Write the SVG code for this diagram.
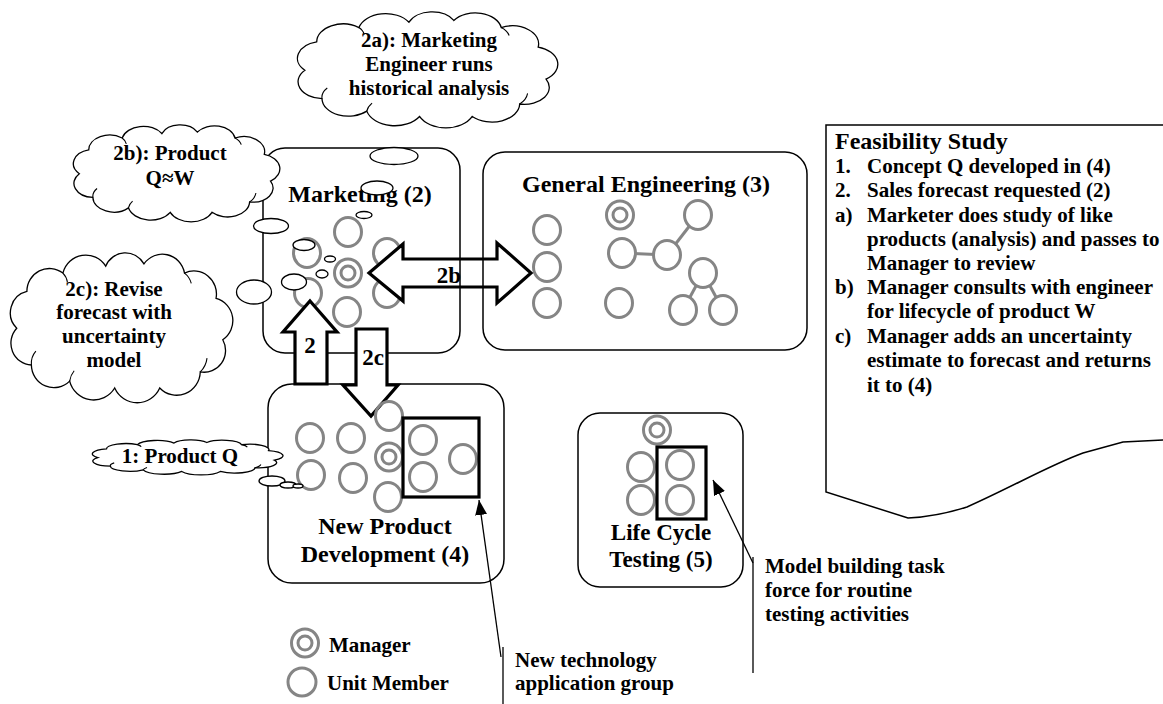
<svg xmlns="http://www.w3.org/2000/svg" xmlns:xlink="http://www.w3.org/1999/xlink" width="1163" height="704" viewBox="0 0 1163 704">
  <style>
    text { font-family: "Liberation Serif", "Times New Roman", serif; font-weight: bold; fill: #000; }
    .title { font-size: 24px; text-anchor: middle; }
    .title-s { font-size: 23px; text-anchor: middle; }
    .ctext { font-size: 21px; text-anchor: middle; }
    .body { font-size: 21px; }
    .head { font-size: 24px; }
    .alabel { font-size: 23px; text-anchor: middle; }
    .frame { fill: none; stroke: #000; stroke-width: 1.5; }
    .member { fill: none; stroke: #858585; stroke-width: 3; }
    .member-w { fill: #fff; stroke: #858585; stroke-width: 3; }
    .tie { stroke: #858585; stroke-width: 3; }
    .group-box { fill: none; stroke: #000; stroke-width: 3.2; }
    .flow { fill: #fff; stroke: #000; stroke-width: 3.2; stroke-linejoin: miter; }
    .cloud { fill: #fff; stroke: #000; stroke-width: 1.3; }
    .hint { fill: none; stroke: #000; stroke-width: 1.1; }
    .bubble { fill: #fff; stroke: #000; stroke-width: 1.3; }
    .pointer { fill: none; stroke: #000; stroke-width: 1.3; }
  </style>
  <defs>
    <!-- thought-cloud outline in a ~200x130 unit frame -->
    <path id="cloud" vector-effect="non-scaling-stroke" d="M9 62 A19 19 0 0 1 18 30 A20 20 0 0 1 50 14 A21 21 0 0 1 88 8 A19 19 0 0 1 122 6 A20 20 0 0 1 158 14 A20 20 0 0 1 186 36 A20 20 0 0 1 192 72 A19 19 0 0 1 172 100 A21 21 0 0 1 136 114 A22 22 0 0 1 96 114 A22 22 0 0 1 56 108 A20 20 0 0 1 22 94 A19 19 0 0 1 9 62 Z"/>
    <path id="cloud-hints" vector-effect="non-scaling-stroke" d="M22 94 A16 16 0 0 1 26 82 M56 108 A18 18 0 0 1 60 99 M172 100 A20 20 0 0 0 178 88 M158 14 A16 16 0 0 1 164 23 M50 14 A14 14 0 0 1 54 22"/>
    <g id="manager">
      <ellipse rx="13.5" ry="14" class="member"/>
      <circle r="7" class="member"/>
    </g>
    <marker id="tip" markerUnits="userSpaceOnUse" markerWidth="16" markerHeight="12" refX="15" refY="6" orient="auto">
      <path d="M0 0 L15 6 L0 12 Z" fill="#000"/>
    </marker>
  </defs>

  <rect width="1163" height="704" fill="#fff"/>

  <!-- unit members of Marketing and General Engineering -->
  <g id="marketing-members">
    <ellipse cx="348" cy="232" rx="13.5" ry="14.5" class="member"/>
    <ellipse cx="307" cy="253" rx="13.5" ry="14.5" class="member"/>
    <ellipse cx="387" cy="253" rx="13.5" ry="14.5" class="member"/>
    <ellipse cx="308" cy="293" rx="13.5" ry="14.5" class="member"/>
    <ellipse cx="387" cy="293" rx="13.5" ry="14.5" class="member"/>
    <ellipse cx="347" cy="312" rx="13.5" ry="14.5" class="member"/>
    <use href="#manager" x="348" y="273"/>
  </g>
  <g id="engineering-members">
    <line x1="622" y1="253" x2="667" y2="255" class="tie"/>
    <line x1="667" y1="255" x2="698" y2="215" class="tie"/>
    <line x1="703" y1="273" x2="683" y2="310" class="tie"/>
    <line x1="703" y1="273" x2="723" y2="310" class="tie"/>
    <ellipse cx="547" cy="230" rx="13.5" ry="14.5" class="member-w"/>
    <ellipse cx="547" cy="267" rx="13.5" ry="14.5" class="member-w"/>
    <ellipse cx="547" cy="303" rx="13.5" ry="14.5" class="member-w"/>
    <ellipse cx="622" cy="253" rx="13.5" ry="14.5" class="member-w"/>
    <ellipse cx="667" cy="255" rx="13.5" ry="14.5" class="member-w"/>
    <ellipse cx="698" cy="215" rx="13.5" ry="14.5" class="member-w"/>
    <ellipse cx="703" cy="273" rx="13.5" ry="14.5" class="member-w"/>
    <ellipse cx="619" cy="303" rx="13.5" ry="14.5" class="member-w"/>
    <ellipse cx="683" cy="310" rx="13.5" ry="14.5" class="member-w"/>
    <ellipse cx="723" cy="310" rx="13.5" ry="14.5" class="member-w"/>
    <use href="#manager" x="620" y="215"/>
  </g>

  <!-- two-way consultation arrow between Marketing and General Engineering -->
  <g id="connector-2b">
    <polygon class="flow" points="369,273 403,244 403,259 497,259 497,243 531,273 497,303 497,287 403,287 403,301"/>
    <text class="alabel" x="449" y="283">2b</text>
  </g>

  <g id="marketing">
    <rect class="frame" x="263" y="148" width="197" height="205" rx="22"/>
    <text class="title" x="360" y="202">Marketing (2)</text>
  </g>

  <g id="general-engineering">
    <rect class="frame" x="483" y="152" width="324" height="198" rx="22"/>
    <text class="title" x="646" y="192">General Engineering (3)</text>
  </g>

  <g id="new-product-development">
    <rect class="frame" x="268" y="384" width="236" height="199" rx="24"/>
    <text class="title" x="385" y="534">New Product</text>
    <text class="title" x="385" y="562">Development (4)</text>
  </g>

  <g id="life-cycle-testing">
    <rect class="frame" x="578" y="413" width="165" height="174" rx="22"/>
    <text class="title-s" x="661" y="540">Life Cycle</text>
    <text class="title-s" x="661" y="567">Testing (5)</text>
  </g>

  <g id="feasibility-study">
    <path class="frame" d="M1164 125 L826 125 L826 492 L908 518 C930 517 945 514 967 507 C1010 488 1050 465 1083 453 L1123 442 L1164 440"/>
    <text class="head" x="835" y="149">Feasibility Study</text>
    <g class="body">
      <text x="835" y="173">1.</text><text x="867" y="173">Concept Q developed in (4)</text>
      <text x="835" y="197">2.</text><text x="867" y="197">Sales forecast requested (2)</text>
      <text x="835" y="222">a)</text><text x="867" y="222">Marketer does study of like</text>
      <text x="867" y="246">products (analysis) and passes to</text>
      <text x="867" y="270">Manager to review</text>
      <text x="835" y="294">b)</text><text x="867" y="294">Manager consults with engineer</text>
      <text x="867" y="318">for lifecycle of product W</text>
      <text x="835" y="343">c)</text><text x="867" y="343">Manager adds an uncertainty</text>
      <text x="867" y="367">estimate to forecast and returns</text>
      <text x="867" y="392">it to (4)</text>
    </g>
  </g>

  <!-- request and return arrows between (4) and (2) -->
  <g id="connectors">
    <polygon class="flow" points="310,301 337,332 327,332 327,384 295,384 295,332 283,332"/>
    <text class="alabel" x="310" y="353">2</text>
    <polygon class="flow" points="356,329 387,329 387,385 398,385 371,416 343,385 356,385"/>
    <text class="alabel" x="373" y="365">2c</text>
  </g>

  <g id="development-members">
    <ellipse cx="310" cy="438" rx="13.5" ry="14.5" class="member"/>
    <ellipse cx="351" cy="438" rx="13.5" ry="14.5" class="member"/>
    <ellipse cx="389" cy="416" rx="13.5" ry="14.5" class="member"/>
    <ellipse cx="423" cy="440" rx="13.5" ry="14.5" class="member"/>
    <ellipse cx="463" cy="459" rx="13.5" ry="14.5" class="member"/>
    <ellipse cx="311" cy="475" rx="13.5" ry="14.5" class="member"/>
    <ellipse cx="353" cy="478" rx="13.5" ry="14.5" class="member"/>
    <ellipse cx="388" cy="497" rx="13.5" ry="14.5" class="member"/>
    <ellipse cx="423" cy="477" rx="13.5" ry="14.5" class="member"/>
    <use href="#manager" x="389" y="457"/>
    <rect class="group-box" x="403" y="418" width="76" height="79"/>
  </g>

  <g id="testing-members">
    <use href="#manager" x="657" y="430"/>
    <ellipse cx="641" cy="467" rx="13.5" ry="14.5" class="member"/>
    <ellipse cx="641" cy="500" rx="13.5" ry="14.5" class="member"/>
    <ellipse cx="680" cy="465" rx="13.5" ry="14.5" class="member"/>
    <ellipse cx="680" cy="500" rx="13.5" ry="14.5" class="member"/>
    <rect class="group-box" x="657" y="447" width="49" height="72"/>
  </g>

  <!-- thought clouds -->
  <g id="cloud-2a">
    <use href="#cloud" class="cloud" transform="matrix(1.318 0 0 0.889 293 15.1)"/>
    <use href="#cloud-hints" class="hint" transform="matrix(1.318 0 0 0.889 293 15.1)"/>
    <ellipse class="bubble" cx="394" cy="156" rx="24" ry="8.5"/>
    <ellipse class="bubble" cx="377" cy="188" rx="16" ry="7"/>
    <ellipse class="bubble" cx="364" cy="215" rx="8" ry="3.5"/>
    <text class="ctext" x="429" y="47">2a): Marketing</text>
    <text class="ctext" x="429" y="71">Engineer runs</text>
    <text class="ctext" x="429" y="95">historical analysis</text>
  </g>

  <g id="cloud-2b">
    <use href="#cloud" class="cloud" transform="matrix(1.045 0 0 0.743 69.9 127.6)"/>
    <use href="#cloud-hints" class="hint" transform="matrix(1.045 0 0 0.743 69.9 127.6)"/>
    <ellipse class="bubble" cx="271" cy="226" rx="17.5" ry="7.5"/>
    <ellipse class="bubble" cx="304" cy="245" rx="11" ry="5.5"/>
    <ellipse class="bubble" cx="330" cy="259" rx="5.5" ry="3"/>
    <text class="ctext" x="170" y="160">2b): Product</text>
    <text class="ctext" x="170" y="185">Q≈W</text>
  </g>

  <g id="cloud-2c">
    <use href="#cloud" class="cloud" transform="matrix(1.126 0 0 1.149 6.6 257)"/>
    <use href="#cloud-hints" class="hint" transform="matrix(1.126 0 0 1.149 6.6 257)"/>
    <ellipse class="bubble" cx="254" cy="292" rx="17.5" ry="12"/>
    <ellipse class="bubble" cx="294" cy="282" rx="12.5" ry="8"/>
    <ellipse class="bubble" cx="322" cy="274" rx="6" ry="4"/>
    <text class="ctext" x="114" y="296">2c): Revise</text>
    <text class="ctext" x="114" y="319">forecast with</text>
    <text class="ctext" x="114" y="343">uncertainty</text>
    <text class="ctext" x="114" y="367">model</text>
  </g>

  <g id="cloud-1">
    <use href="#cloud" class="cloud" transform="matrix(0.965 0 0 0.268 89.1 440.9)"/>
    <use href="#cloud-hints" class="hint" transform="matrix(0.965 0 0 0.268 89.1 440.9)"/>
    <ellipse class="bubble" cx="272" cy="481" rx="13" ry="5"/>
    <ellipse class="bubble" cx="288" cy="485" rx="8" ry="3"/>
    <ellipse class="bubble" cx="298" cy="486" rx="5" ry="2"/>
    <text class="ctext" x="180" y="463">1: Product Q</text>
  </g>

  <!-- callouts -->
  <g id="callout-technology">
    <line class="pointer" x1="501" y1="657" x2="479" y2="500" marker-end="url(#tip)"/>
    <line class="pointer" x1="503" y1="647" x2="503" y2="704"/>
    <text class="body" x="515" y="667">New technology</text>
    <text class="body" x="515" y="690">application group</text>
  </g>
  <g id="callout-model">
    <line class="pointer" x1="753" y1="563" x2="713" y2="480" marker-end="url(#tip)"/>
    <line class="pointer" x1="753" y1="557" x2="753" y2="673"/>
    <text class="body" x="765" y="573">Model building task</text>
    <text class="body" x="765" y="597">force for routine</text>
    <text class="body" x="765" y="621">testing activities</text>
  </g>

  <g id="legend">
    <use href="#manager" x="305" y="643"/>
    <text class="body" x="329" y="652">Manager</text>
    <ellipse cx="302" cy="682" rx="14" ry="14" class="member"/>
    <text class="body" x="327" y="690">Unit Member</text>
  </g>
</svg>
